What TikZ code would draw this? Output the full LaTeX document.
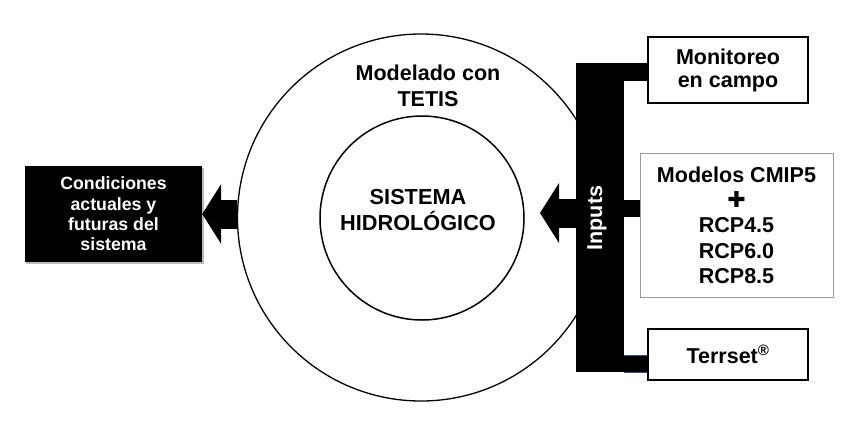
\documentclass[tikz,border=0pt]{standalone}
\usepackage{fontspec}
\setmainfont{Liberation Sans}
\newfontfamily\dejavu{DejaVu Sans}
\usetikzlibrary{arrows.meta,shadows}
\definecolor{edgeblue}{RGB}{50,80,140}
\begin{document}
\begin{tikzpicture}[x=1bp,y=-1bp,
  bigfont/.style={font=\bfseries\fontsize{21.6}{23}\selectfont},
  ring/.style={circle, draw, line width=1.3bp, inner sep=0pt},
  plaintext/.style={bigfont, align=center, inner sep=0pt},
  whitebox/.style={draw, line width=1.5bp, fill=white, align=center, bigfont, inner sep=0pt},
  blockarrow/.style={line width=29bp, -{Triangle[length=19bp,width=60bp,line width=0pt]}},
  branch/.style={line width=17bp}]
\useasboundingbox (0,0) rectangle (850,420);
% circles
\node[ring, minimum size=367bp] (outer) at (421,217.5) {};
\node[ring, minimum size=204bp, line width=1.5bp] (inner) at (422,218) {};
\node[plaintext, font=\bfseries\fontsize{21.6}{26}\selectfont] (tetis) at (428,86) {Modelado con\\TETIS};
\node[plaintext, font=\bfseries\fontsize{21.8}{26}\selectfont] (sis) at (418,210) {SISTEMA\\HIDROLÓGICO};
% input bar
\node[fill=black, minimum width=48bp, minimum height=309bp, inner sep=0pt] (bar) at (600,217.5) {};
\node[plaintext, text=white, rotate=90] (inputs) at (597,218) {Inputs};
% output box
\node[fill=black, text=white, minimum width=177bp, minimum height=96bp, inner sep=0pt, align=center,
  font=\bfseries\fontsize{17.8}{20.5}\selectfont,
  drop shadow={shadow xshift=1.5bp, shadow yshift=-2bp, fill=black!45, opacity=0.6}] (cond) at (113.5,214)
  {Condiciones\\actuales y\\futuras del\\sistema};
% input boxes
\node[whitebox, minimum width=160bp, minimum height=66bp] (monit) at (728,70) {Monitoreo\\en campo};
\node[whitebox, draw=black!40, line width=1bp, minimum width=193bp, minimum height=144bp,
  font=\bfseries\fontsize{21.6}{25.4}\selectfont] (cmip) at (736.5,225)
  {Modelos CMIP5\\{\dejavu\mdseries\fontsize{22}{22}\selectfont ✚}\\RCP4.5\\RCP6.0\\RCP8.5};
\node[whitebox, minimum width=160bp, minimum height=51bp] (terr) at (728,354.5) {Terrset\textsuperscript{®}};
% arrows
\draw[blockarrow] (outer.west |- cond.east) -- (cond.east);
\coordinate (intip) at (540,213);
\draw[blockarrow] (bar.west |- intip) -- (intip);
% branches
\draw[branch, line width=18bp] (bar.east |- 0,72) -- (monit.west |- 0,72);
\draw[branch] (bar.east |- 0,208.5) -- (cmip.west |- 0,208.5);
\fill (bar.east |- 0,355) rectangle (terr.west |- 0,372);
\draw[edgeblue, line width=1bp] (bar.east |- 0,355) -- (terr.west |- 0,355);
\draw[edgeblue, line width=1bp] (bar.east |- 0,372) -- (terr.west |- 0,372);
\end{tikzpicture}
\end{document}
